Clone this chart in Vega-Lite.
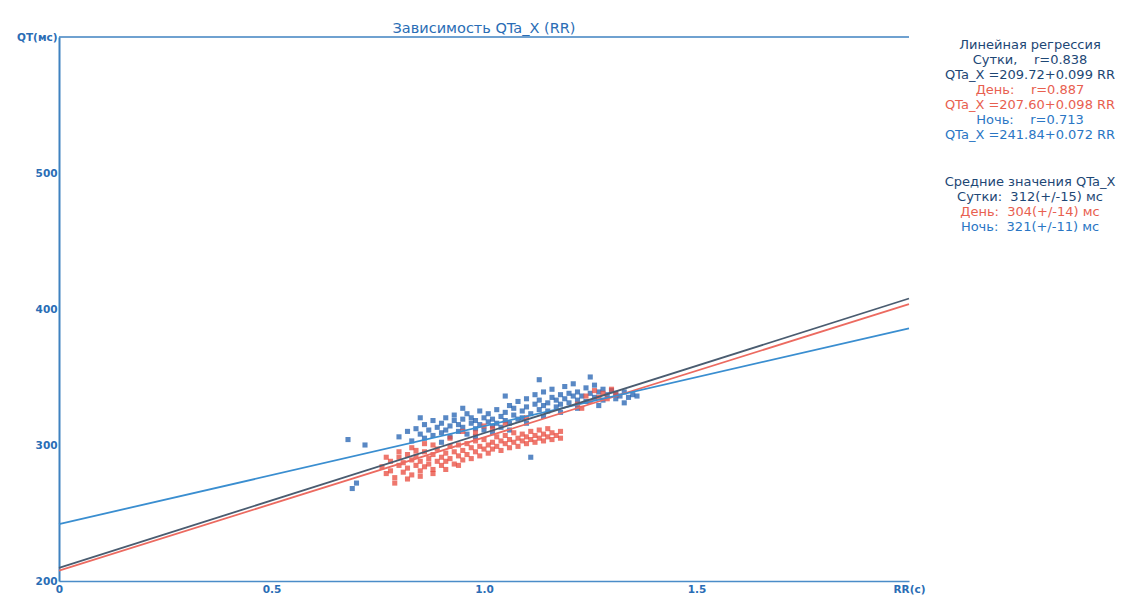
{
  "$schema": "https://vega.github.io/schema/vega-lite/v6.json",
  "autosize": {"type": "pad"},
  "padding": {"left": 16, "top": 20, "right": 0, "bottom": 0},
  "background": "white",
  "bounds": "flush",
  "spacing": 23,
  "config": {"view": {"stroke": null}, "font": "DejaVu Sans"},
  "resolve": {"scale": {"color": "independent", "x": "independent", "y": "independent"}},
  "datasets": {
    "points": [
      {"series": "Ночь", "RR": 0.68, "QT": 304}, {"series": "Ночь", "RR": 0.69, "QT": 268}, {"series": "Ночь", "RR": 0.70, "QT": 272}, {"series": "Ночь", "RR": 0.72, "QT": 300},
      {"series": "Ночь", "RR": 0.80, "QT": 306}, {"series": "Ночь", "RR": 0.82, "QT": 310}, {"series": "Ночь", "RR": 0.83, "QT": 303}, {"series": "Ночь", "RR": 0.84, "QT": 312},
      {"series": "Ночь", "RR": 0.85, "QT": 308}, {"series": "Ночь", "RR": 0.86, "QT": 315}, {"series": "Ночь", "RR": 0.86, "QT": 305}, {"series": "Ночь", "RR": 0.87, "QT": 311},
      {"series": "Ночь", "RR": 0.88, "QT": 318}, {"series": "Ночь", "RR": 0.88, "QT": 307}, {"series": "Ночь", "RR": 0.89, "QT": 313}, {"series": "Ночь", "RR": 0.90, "QT": 309},
      {"series": "Ночь", "RR": 0.90, "QT": 316}, {"series": "Ночь", "RR": 0.91, "QT": 320}, {"series": "Ночь", "RR": 0.91, "QT": 311}, {"series": "Ночь", "RR": 0.92, "QT": 314},
      {"series": "Ночь", "RR": 0.92, "QT": 306}, {"series": "Ночь", "RR": 0.93, "QT": 318}, {"series": "Ночь", "RR": 0.93, "QT": 322}, {"series": "Ночь", "RR": 0.94, "QT": 310},
      {"series": "Ночь", "RR": 0.94, "QT": 315}, {"series": "Ночь", "RR": 0.95, "QT": 319}, {"series": "Ночь", "RR": 0.95, "QT": 313}, {"series": "Ночь", "RR": 0.96, "QT": 323},
      {"series": "Ночь", "RR": 0.96, "QT": 308}, {"series": "Ночь", "RR": 0.97, "QT": 316}, {"series": "Ночь", "RR": 0.97, "QT": 320}, {"series": "Ночь", "RR": 0.98, "QT": 312},
      {"series": "Ночь", "RR": 0.98, "QT": 318}, {"series": "Ночь", "RR": 0.99, "QT": 325}, {"series": "Ночь", "RR": 0.99, "QT": 315}, {"series": "Ночь", "RR": 1.00, "QT": 320},
      {"series": "Ночь", "RR": 1.00, "QT": 311}, {"series": "Ночь", "RR": 1.01, "QT": 317}, {"series": "Ночь", "RR": 1.01, "QT": 323}, {"series": "Ночь", "RR": 1.02, "QT": 314},
      {"series": "Ночь", "RR": 1.02, "QT": 319}, {"series": "Ночь", "RR": 1.03, "QT": 326}, {"series": "Ночь", "RR": 1.03, "QT": 316}, {"series": "Ночь", "RR": 1.04, "QT": 321},
      {"series": "Ночь", "RR": 1.04, "QT": 313}, {"series": "Ночь", "RR": 1.05, "QT": 318}, {"series": "Ночь", "RR": 1.05, "QT": 324}, {"series": "Ночь", "RR": 1.06, "QT": 329},
      {"series": "Ночь", "RR": 1.06, "QT": 316}, {"series": "Ночь", "RR": 1.07, "QT": 322}, {"series": "Ночь", "RR": 1.07, "QT": 327}, {"series": "Ночь", "RR": 1.08, "QT": 319},
      {"series": "Ночь", "RR": 1.08, "QT": 332}, {"series": "Ночь", "RR": 1.09, "QT": 325}, {"series": "Ночь", "RR": 1.09, "QT": 320}, {"series": "Ночь", "RR": 1.10, "QT": 328},
      {"series": "Ночь", "RR": 1.10, "QT": 334}, {"series": "Ночь", "RR": 1.11, "QT": 323}, {"series": "Ночь", "RR": 1.11, "QT": 291}, {"series": "Ночь", "RR": 1.12, "QT": 330},
      {"series": "Ночь", "RR": 1.12, "QT": 337}, {"series": "Ночь", "RR": 1.13, "QT": 326}, {"series": "Ночь", "RR": 1.13, "QT": 333}, {"series": "Ночь", "RR": 1.14, "QT": 329},
      {"series": "Ночь", "RR": 1.14, "QT": 339}, {"series": "Ночь", "RR": 1.15, "QT": 331}, {"series": "Ночь", "RR": 1.15, "QT": 325}, {"series": "Ночь", "RR": 1.16, "QT": 335},
      {"series": "Ночь", "RR": 1.16, "QT": 341}, {"series": "Ночь", "RR": 1.17, "QT": 328}, {"series": "Ночь", "RR": 1.17, "QT": 333}, {"series": "Ночь", "RR": 1.18, "QT": 337},
      {"series": "Ночь", "RR": 1.18, "QT": 330}, {"series": "Ночь", "RR": 1.19, "QT": 343}, {"series": "Ночь", "RR": 1.19, "QT": 334}, {"series": "Ночь", "RR": 1.20, "QT": 338},
      {"series": "Ночь", "RR": 1.20, "QT": 331}, {"series": "Ночь", "RR": 1.21, "QT": 336}, {"series": "Ночь", "RR": 1.21, "QT": 345}, {"series": "Ночь", "RR": 1.22, "QT": 333},
      {"series": "Ночь", "RR": 1.22, "QT": 339}, {"series": "Ночь", "RR": 1.23, "QT": 336}, {"series": "Ночь", "RR": 1.24, "QT": 342}, {"series": "Ночь", "RR": 1.24, "QT": 332},
      {"series": "Ночь", "RR": 1.25, "QT": 338}, {"series": "Ночь", "RR": 1.26, "QT": 335}, {"series": "Ночь", "RR": 1.26, "QT": 344}, {"series": "Ночь", "RR": 1.27, "QT": 339},
      {"series": "Ночь", "RR": 1.28, "QT": 333}, {"series": "Ночь", "RR": 1.28, "QT": 341}, {"series": "Ночь", "RR": 1.29, "QT": 337}, {"series": "Ночь", "RR": 1.30, "QT": 340},
      {"series": "Ночь", "RR": 1.31, "QT": 334}, {"series": "Ночь", "RR": 1.31, "QT": 338}, {"series": "Ночь", "RR": 1.32, "QT": 336}, {"series": "Ночь", "RR": 1.33, "QT": 339},
      {"series": "Ночь", "RR": 1.34, "QT": 335}, {"series": "Ночь", "RR": 1.35, "QT": 337}, {"series": "Ночь", "RR": 1.36, "QT": 336}, {"series": "Ночь", "RR": 1.13, "QT": 348},
      {"series": "Ночь", "RR": 1.05, "QT": 336}, {"series": "Ночь", "RR": 0.95, "QT": 327}, {"series": "Ночь", "RR": 0.85, "QT": 320}, {"series": "Ночь", "RR": 1.25, "QT": 350},
      {"series": "Ночь", "RR": 1.02, "QT": 309}, {"series": "Ночь", "RR": 1.06, "QT": 311}, {"series": "Ночь", "RR": 1.10, "QT": 316}, {"series": "Ночь", "RR": 1.14, "QT": 321},
      {"series": "Ночь", "RR": 1.18, "QT": 324}, {"series": "Ночь", "RR": 1.22, "QT": 327}, {"series": "Ночь", "RR": 1.27, "QT": 329}, {"series": "Ночь", "RR": 1.33, "QT": 331},
      {"series": "Ночь", "RR": 0.98, "QT": 306}, {"series": "Ночь", "RR": 0.90, "QT": 302},
      {"series": "День", "RR": 0.76, "QT": 284}, {"series": "День", "RR": 0.77, "QT": 279}, {"series": "День", "RR": 0.78, "QT": 288}, {"series": "День", "RR": 0.78, "QT": 281},
      {"series": "День", "RR": 0.79, "QT": 276}, {"series": "День", "RR": 0.80, "QT": 285}, {"series": "День", "RR": 0.80, "QT": 291}, {"series": "День", "RR": 0.81, "QT": 280},
      {"series": "День", "RR": 0.81, "QT": 287}, {"series": "День", "RR": 0.82, "QT": 283}, {"series": "День", "RR": 0.82, "QT": 293}, {"series": "День", "RR": 0.83, "QT": 278},
      {"series": "День", "RR": 0.83, "QT": 289}, {"series": "День", "RR": 0.84, "QT": 285}, {"series": "День", "RR": 0.84, "QT": 292}, {"series": "День", "RR": 0.85, "QT": 281},
      {"series": "День", "RR": 0.85, "QT": 288}, {"series": "День", "RR": 0.86, "QT": 295}, {"series": "День", "RR": 0.86, "QT": 284}, {"series": "День", "RR": 0.87, "QT": 290},
      {"series": "День", "RR": 0.87, "QT": 286}, {"series": "День", "RR": 0.88, "QT": 282}, {"series": "День", "RR": 0.88, "QT": 293}, {"series": "День", "RR": 0.89, "QT": 288},
      {"series": "День", "RR": 0.89, "QT": 297}, {"series": "День", "RR": 0.90, "QT": 285}, {"series": "День", "RR": 0.90, "QT": 291}, {"series": "День", "RR": 0.91, "QT": 294},
      {"series": "День", "RR": 0.91, "QT": 288}, {"series": "День", "RR": 0.92, "QT": 299}, {"series": "День", "RR": 0.92, "QT": 290}, {"series": "День", "RR": 0.93, "QT": 286},
      {"series": "День", "RR": 0.93, "QT": 295}, {"series": "День", "RR": 0.94, "QT": 292}, {"series": "День", "RR": 0.94, "QT": 300}, {"series": "День", "RR": 0.95, "QT": 289},
      {"series": "День", "RR": 0.95, "QT": 296}, {"series": "День", "RR": 0.96, "QT": 293}, {"series": "День", "RR": 0.96, "QT": 301}, {"series": "День", "RR": 0.97, "QT": 298},
      {"series": "День", "RR": 0.97, "QT": 290}, {"series": "День", "RR": 0.98, "QT": 295}, {"series": "День", "RR": 0.98, "QT": 303}, {"series": "День", "RR": 0.99, "QT": 299},
      {"series": "День", "RR": 0.99, "QT": 292}, {"series": "День", "RR": 1.00, "QT": 297}, {"series": "День", "RR": 1.00, "QT": 304}, {"series": "День", "RR": 1.01, "QT": 300},
      {"series": "День", "RR": 1.01, "QT": 294}, {"series": "День", "RR": 1.02, "QT": 302}, {"series": "День", "RR": 1.02, "QT": 297}, {"series": "День", "RR": 1.03, "QT": 306},
      {"series": "День", "RR": 1.03, "QT": 299}, {"series": "День", "RR": 1.04, "QT": 303}, {"series": "День", "RR": 1.04, "QT": 296}, {"series": "День", "RR": 1.05, "QT": 301},
      {"series": "День", "RR": 1.05, "QT": 307}, {"series": "День", "RR": 1.06, "QT": 298}, {"series": "День", "RR": 1.06, "QT": 304}, {"series": "День", "RR": 1.07, "QT": 302},
      {"series": "День", "RR": 1.07, "QT": 309}, {"series": "День", "RR": 1.08, "QT": 305}, {"series": "День", "RR": 1.08, "QT": 299}, {"series": "День", "RR": 1.09, "QT": 303},
      {"series": "День", "RR": 1.09, "QT": 308}, {"series": "День", "RR": 1.10, "QT": 301}, {"series": "День", "RR": 1.10, "QT": 306}, {"series": "День", "RR": 1.11, "QT": 304},
      {"series": "День", "RR": 1.11, "QT": 310}, {"series": "День", "RR": 1.12, "QT": 302}, {"series": "День", "RR": 1.12, "QT": 307}, {"series": "День", "RR": 1.13, "QT": 305},
      {"series": "День", "RR": 1.13, "QT": 311}, {"series": "День", "RR": 1.14, "QT": 303}, {"series": "День", "RR": 1.14, "QT": 308}, {"series": "День", "RR": 1.15, "QT": 306},
      {"series": "День", "RR": 1.15, "QT": 312}, {"series": "День", "RR": 1.16, "QT": 304}, {"series": "День", "RR": 1.16, "QT": 309}, {"series": "День", "RR": 1.17, "QT": 307},
      {"series": "День", "RR": 1.18, "QT": 310}, {"series": "День", "RR": 1.18, "QT": 305}, {"series": "День", "RR": 0.95, "QT": 310}, {"series": "День", "RR": 1.00, "QT": 314},
      {"series": "День", "RR": 1.05, "QT": 316}, {"series": "День", "RR": 1.10, "QT": 320}, {"series": "День", "RR": 1.22, "QT": 330}, {"series": "День", "RR": 1.24, "QT": 336},
      {"series": "День", "RR": 1.25, "QT": 332}, {"series": "День", "RR": 1.26, "QT": 340}, {"series": "День", "RR": 1.27, "QT": 335}, {"series": "День", "RR": 1.28, "QT": 338},
      {"series": "День", "RR": 1.29, "QT": 334}, {"series": "День", "RR": 1.30, "QT": 341}, {"series": "День", "RR": 1.31, "QT": 337}, {"series": "День", "RR": 1.23, "QT": 327},
      {"series": "День", "RR": 0.88, "QT": 300}, {"series": "День", "RR": 0.92, "QT": 305}, {"series": "День", "RR": 0.98, "QT": 309}, {"series": "День", "RR": 1.02, "QT": 312},
      {"series": "День", "RR": 0.80, "QT": 295}, {"series": "День", "RR": 0.83, "QT": 298}, {"series": "День", "RR": 0.86, "QT": 301}, {"series": "День", "RR": 0.79, "QT": 272},
      {"series": "День", "RR": 0.82, "QT": 275}, {"series": "День", "RR": 0.85, "QT": 277}, {"series": "День", "RR": 0.88, "QT": 279}, {"series": "День", "RR": 0.91, "QT": 282},
      {"series": "День", "RR": 0.94, "QT": 285}, {"series": "День", "RR": 0.77, "QT": 291}, {"series": "День", "RR": 0.84, "QT": 296}
    ],
    "lines": [
      {"series": "День", "RR": 0, "QT": 207.6}, {"series": "День", "RR": 2, "QT": 403.6},
      {"series": "Ночь", "RR": 0, "QT": 241.84}, {"series": "Ночь", "RR": 2, "QT": 385.84},
      {"series": "Сутки", "RR": 0, "QT": 209.72}, {"series": "Сутки", "RR": 2, "QT": 407.72}
    ],
    "legend": [
      {"line": 1, "group": "head", "text": "Линейная регрессия"},
      {"line": 2, "group": "Сутки", "text": "Сутки,\u00a0\u00a0\u00a0\u00a0r=0.838"},
      {"line": 3, "group": "Сутки", "text": "QTa_X =209.72+0.099 RR"},
      {"line": 4, "group": "День", "text": "День:\u00a0\u00a0\u00a0\u00a0r=0.887"},
      {"line": 5, "group": "День", "text": "QTa_X =207.60+0.098 RR"},
      {"line": 6, "group": "Ночь", "text": "Ночь:\u00a0\u00a0\u00a0\u00a0r=0.713"},
      {"line": 7, "group": "Ночь", "text": "QTa_X =241.84+0.072 RR"},
      {"line": 10.1, "group": "head", "text": "Средние значения QTa_X"},
      {"line": 11.1, "group": "Сутки", "text": "Сутки:\u00a0\u00a0312(+/-15) мс"},
      {"line": 12.1, "group": "День", "text": "День:\u00a0\u00a0304(+/-14) мс"},
      {"line": 13.1, "group": "Ночь", "text": "Ночь:\u00a0\u00a0321(+/-11) мс"}
    ]
  },
  "hconcat": [
    {
      "width": 850,
      "height": 544,
      "title": {"text": "Зависимость QTa_X (RR)", "fontSize": 14.5, "fontWeight": "normal", "color": "#2a6db5", "offset": -4, "anchor": "middle"},
      "layer": [
        {
          "data": {"name": "points"},
          "mark": {"type": "square", "size": 26, "opacity": 0.75},
          "encoding": {
            "x": {"field": "RR", "type": "quantitative", "scale": {"domain": [0, 2], "nice": false, "zero": false},
              "axis": {"values": [0, 0.5, 1, 1.5, 2], "title": null, "grid": false, "ticks": false, "domainColor": "#4a8cc8", "domainWidth": 1.5, "labelColor": "#2a6db5", "labelFontSize": 10.5, "labelFontWeight": "bold", "labelFlush": false, "labelOverlap": false, "labelPadding": 3,
                "labelExpr": "datum.value == 0 ? '0' : datum.value == 2 ? 'RR(с)' : format(datum.value, '.1f')"}},
            "y": {"field": "QT", "type": "quantitative", "scale": {"domain": [200, 600], "nice": false, "zero": false},
              "axis": {"values": [200, 300, 400, 500, 600], "title": null, "grid": false, "ticks": false, "domainColor": "#3f82c0", "domainWidth": 2, "labelColor": "#2a6db5", "labelFontSize": 10.5, "labelFontWeight": "bold", "labelFlush": false, "labelOverlap": false, "labelPadding": 2,
                "labelExpr": "datum.value == 600 ? 'QT(мс)' : datum.label"}},
            "color": {"field": "series", "type": "nominal", "scale": {"domain": ["Ночь", "День"], "range": ["#2160b0", "#e84a3c"]}, "legend": null}
          }
        },
        {
          "data": {"name": "lines"},
          "mark": {"type": "line", "strokeWidth": 1.8},
          "encoding": {
            "x": {"field": "RR", "type": "quantitative"},
            "y": {"field": "QT", "type": "quantitative"},
            "stroke": {"field": "series", "type": "nominal", "scale": {"domain": ["День", "Ночь", "Сутки"], "range": ["#ec6a60", "#3a8ed0", "#4a5c70"]}, "legend": null}
          }
        },
        {
          "data": {"values": [{}]},
          "mark": {"type": "rule", "color": "#3f82c0", "strokeWidth": 1.5},
          "encoding": {"y": {"datum": 600}}
        }
      ]
    },
    {
      "width": 196,
      "height": 544,
      "data": {"name": "legend"},
      "mark": {"type": "text", "fontSize": 13, "font": "DejaVu Sans"},
      "encoding": {
        "y": {"field": "line", "type": "quantitative", "scale": {"domain": [0.467, 36.73], "reverse": true, "nice": false, "zero": false}, "axis": null},
        "text": {"field": "text"},
        "color": {"field": "group", "type": "nominal", "scale": {"domain": ["head", "Сутки", "День", "Ночь"], "range": ["#1d4775", "#1d4775", "#e8604f", "#2a76c4"]}, "legend": null}
      }
    }
  ]
}
